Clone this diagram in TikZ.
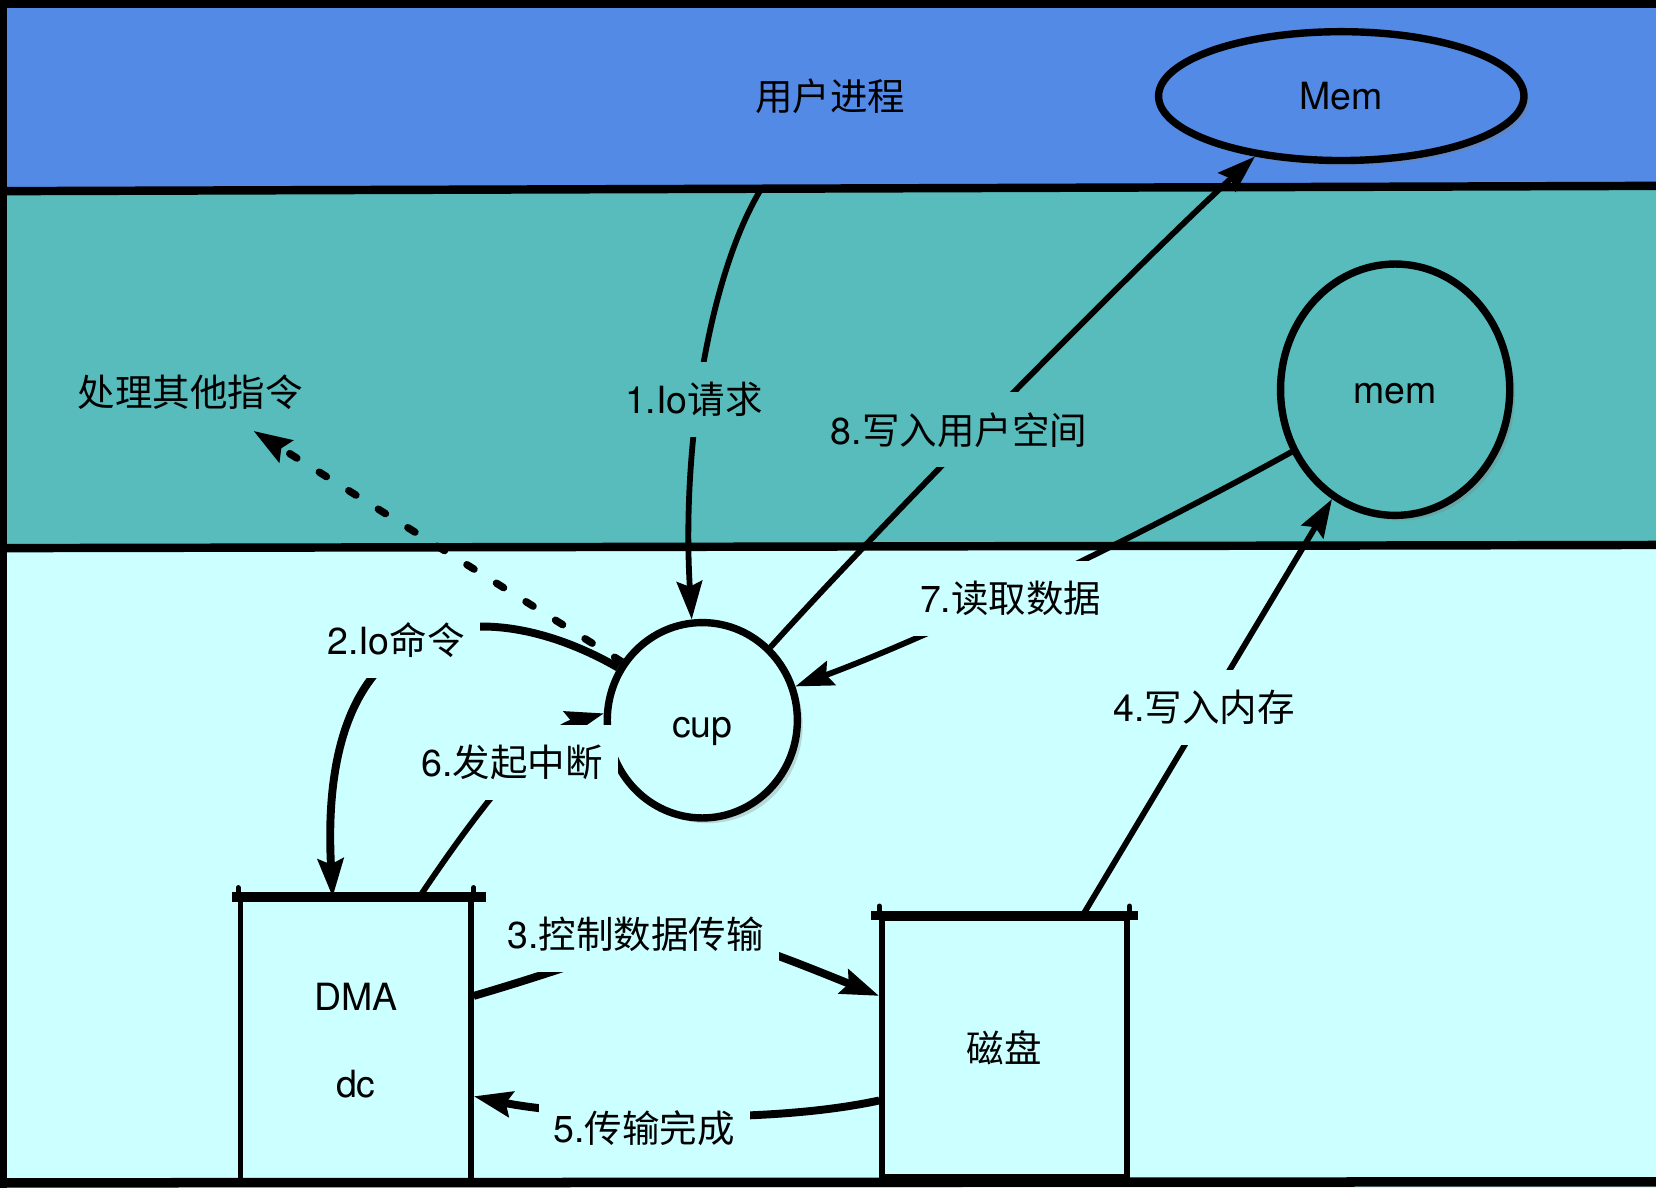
\documentclass[tikz,border=0pt]{standalone}
\usepackage{fontspec}
\setmainfont{TeX Gyre Heros}
\newfontfamily\cjk{Noto Sans CJK SC}
\usetikzlibrary{arrows.meta,shapes.geometric,shadows}
\newcommand{\zh}[1]{{\cjk #1}}
\definecolor{userblue}{HTML}{528AE5}
\definecolor{kernteal}{HTML}{58BCBC}
\definecolor{hwcyan}{HTML}{CCFFFF}

\begin{document}
\begin{tikzpicture}[x=0.1mm,y=-0.1mm,font=\fontsize{10.1pt}{12pt}\selectfont,
	band/.style={line width=0.8mm},
	memory/.style={ellipse,draw,line width=0.7mm,drop shadow={opacity=0.3,shadow xshift=0.5mm,shadow yshift=-0.5mm}},
	unit/.style={rectangle,draw,line width=0.5mm},
	flow/.style={line width=0.55mm,-{Stealth[length=3.6mm,width=2.4mm,inset=0.5mm]}},
	fat/.style={line width=0.75mm},
	hint/.style={line width=0.7mm,line cap=round,dash pattern=on 0.8mm off 2.5mm},
	lbl/.style={inner xsep=1.4mm,inner ysep=1.9mm}]
		\useasboundingbox (0,0) rectangle (1568,1125);
		\fill[userblue] (0,0) rectangle (1568,179);
		\fill[kernteal] (0,179) rectangle (1568,518);
		\fill[hwcyan] (0,518) rectangle (1568,1125);
		
		\node (user) at (786,91) {\zh{用户进程}};
		\node[memory,fill=userblue,minimum width=34.6mm,minimum height=12.2mm] (Mem) at (1270,91) {Mem};
		\node[memory,fill=kernteal,minimum width=21.7mm,minimum height=23.8mm] (mem) at (1321,369) {\raisebox{-0.4mm}[1ex][0pt]{mem}};
		\node[memory,fill=hwcyan,minimum width=18mm,minimum height=18.5mm] (cup) at (665,682) {\raisebox{-0.7mm}[1ex][0pt]{cup}};
		\node (other) at (180,371) {\zh{处理其他指令}};
		\node[unit,minimum width=21.8mm,minimum height=26.6mm,align=center] (dma) at (337,985) {DMA\\[4mm]dc};
		\node[unit,minimum width=23.2mm,minimum height=24.5mm] (disk) at (951,992) {\zh{磁盘}};
		
		\foreach \b/\l/\r in {dma/0.6mm/1.2mm,disk/0.8mm/0.8mm}{
			\draw[line width=0.9mm] ([xshift=-\l]\b.north west) -- ([xshift=\r]\b.north east);
			\draw[line width=0.5mm,line cap=round] (\b.north west) -- ++(0,-9);
			\draw[line width=0.5mm,line cap=round] (\b.north east) -- ++(0,-9);
		}
		
		\draw[band] (0,4) -- (1568,4);
		\draw[band] (3,0) -- (3,1125);
		\draw[band] (0,181) -- (1568,176);
		\draw[band] (0,519) -- (1568,516);
		\draw[line width=0.9mm] (0,1120) -- (1568,1119);
		
		\coordinate (u1) at (720,180);
		\coordinate (oth) at (240,408);
		
		\draw[flow] (u1) .. controls (672,260) and (645,420) .. (cup.96);
		\draw[flow] (cup.47) .. controls (829,502) and (1075,252) .. (Mem.215);
		\draw[flow] (mem.211) .. controls (1091,501) and (896,597) .. (cup.20);
		\draw[flow] ([xshift=7.4mm]disk.north) -- (mem.240);
		\draw[flow,fat] (cup.148) .. controls (460,560) and (300,570) .. ([xshift=-2.2mm]dma.north);
		\draw[flow] ([xshift=6mm]dma.north) .. controls (475,733) and (520,690) .. (cup.176);
		\draw[flow,fat] ([yshift=4.2mm]dma.east) .. controls (664,880) and (625,859) .. ([yshift=4.9mm]disk.west);
		\draw[flow,fat] ([yshift=-5mm]disk.west) .. controls (712,1068) and (528,1055) .. ([yshift=-5.3mm]dma.east);
		\draw[flow,hint] (cup.144) -- (oth);
		
		\node[lbl,fill=kernteal] (l1) at (657,378) {1.Io\zh{请求}};
		\node[lbl,fill=kernteal] (l8) at (908,407) {8.\zh{写入用户空间}};
		\node[lbl,fill=hwcyan] (l7) at (957,567) {7.\zh{读取数据}};
		\node[lbl,fill=hwcyan] (l2) at (375,606) {2.Io\zh{命令}};
		\node[lbl,fill=hwcyan] (l6) at (485,722) {6.\zh{发起中断}};
		\node[lbl,fill=hwcyan] (l4) at (1140,670) {4.\zh{写入内存}};
		\node[lbl,fill=hwcyan] (l3) at (602,885) {3.\zh{控制数据传输}};
		\node[lbl,fill=hwcyan] (l5) at (610,1068) {5.\zh{传输完成}};
	\end{tikzpicture}
\end{document}
